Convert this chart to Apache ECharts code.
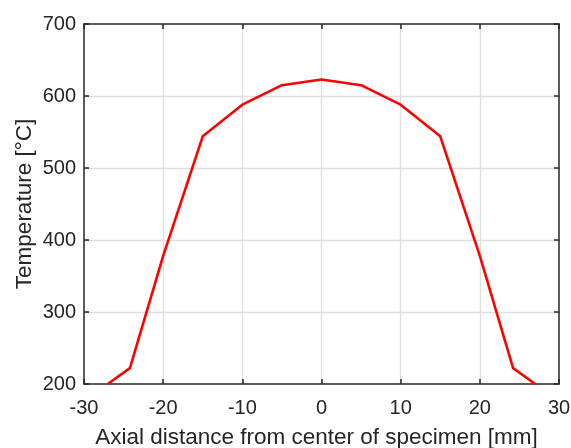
<!DOCTYPE html>
<html>
<head>
<meta charset="utf-8">
<script src="https://cdn.jsdelivr.net/npm/echarts@6/dist/echarts.min.js"></script>
<style>
  html, body { margin: 0; padding: 0; background: #fff; }
  #chart { width: 571px; height: 448px; }
</style>
</head>
<body>
<div id="chart"></div>
<script>
  // axial position [mm] and measured temperature [°C]
  var positions = [-27, -24.2, -20, -15, -10, -5, 0, 5, 10, 15, 20, 24.2, 27];
  var temperatures = [200, 222, 378, 544, 588, 615, 623, 615, 588, 544, 378, 222, 200];

  var xTitle = 'Axial distance from center of specimen [mm]';
  var yTitle = 'Temperature [°C]';

  var axisColor = '#262626';
  var fontFamily = 'Liberation Sans, Arial, sans-serif';

  var points = [];
  positions.forEach(function (x, i) {
    points.push([x, temperatures[i]]);
  });

  var chart = echarts.init(document.getElementById('chart'));

  var baseX = {
    type: 'value',
    min: -30,
    max: 30,
    interval: 10,
    axisLine: { show: true, onZero: false, lineStyle: { color: axisColor, width: 1.5 } },
    axisTick: { show: true, inside: true, length: 5, lineStyle: { color: axisColor, width: 1.5 } },
    splitLine: { show: false },
    z: 3
  };
  var baseY = {
    type: 'value',
    min: 200,
    max: 700,
    interval: 100,
    axisLine: { show: true, onZero: false, lineStyle: { color: axisColor, width: 1.5 } },
    axisTick: { show: true, inside: true, length: 5, lineStyle: { color: axisColor, width: 1.5 } },
    splitLine: { show: false },
    z: 3
  };

  var options = {
    animation: false,
    grid: { left: 84, right: 12, top: 24, bottom: 64, containLabel: false, outerBoundsMode: 'none' },
    xAxis: [
      Object.assign({}, baseX, {
        position: 'bottom',
        name: xTitle,
        nameLocation: 'middle',
        nameGap: 42,
        nameMoveOverlap: false,
        nameTextStyle: { color: axisColor, fontSize: 22.5, fontFamily: fontFamily, padding: [0, 10, 0, 0] },
        axisLabel: { color: axisColor, fontSize: 20, fontFamily: fontFamily, margin: 14 },
        splitLine: { show: true, showMinLine: false, showMaxLine: false, lineStyle: { color: '#dfdfdf', width: 1.3 } },
        z: 1
      }),
      Object.assign({}, baseX, {
        position: 'top',
        axisLabel: { show: false }
      })
    ],
    yAxis: [
      Object.assign({}, baseY, {
        position: 'left',
        name: yTitle,
        nameLocation: 'middle',
        nameGap: 48,
        nameMoveOverlap: false,
        nameTextStyle: { color: axisColor, fontSize: 22.5, fontFamily: fontFamily },
        axisLabel: { color: axisColor, fontSize: 20, fontFamily: fontFamily, margin: 8 },
        splitLine: { show: true, showMinLine: false, showMaxLine: false, lineStyle: { color: '#dfdfdf', width: 1.3 } },
        z: 1
      }),
      Object.assign({}, baseY, {
        position: 'right',
        axisLabel: { show: false }
      })
    ],
    series: [
      {
        type: 'line',
        data: points,
        showSymbol: false,
        lineStyle: { color: '#ff0000', width: 2.6 },
        z: 5
      }
    ]
  };

  chart.setOption(options);
</script>
</body>
</html>
